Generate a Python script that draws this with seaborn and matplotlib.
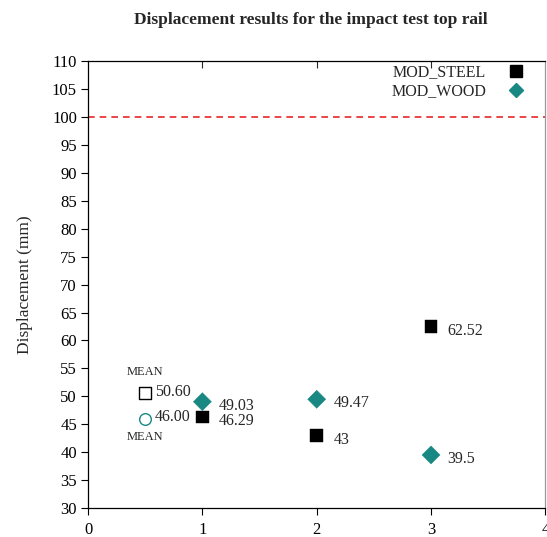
import matplotlib
matplotlib.use("Agg")
import matplotlib.pyplot as plt
import seaborn as sns
import pandas as pd
from matplotlib.lines import Line2D

# Data
tests = [1, 2, 3]
steel = [46.29, 43.0, 62.52]
wood = [49.03, 49.47, 39.5]
steel_labels = ["46.29", "43", "62.52"]
wood_labels = ["49.03", "49.47", "39.5"]
mean_x = 0.5
mean_steel = 50.60
mean_wood = 46.00
limit = 100
yticks = list(range(30, 111, 5))
xticks = [0, 1, 2, 3, 4]

sns.set_style("white")
plt.rcParams['font.family'] = ['Liberation Serif', 'DejaVu Serif']

TEAL = '#1a8882'

fig = plt.figure(figsize=(5.47, 5.37), dpi=100)
ax = fig.add_axes([0.161, 0.054, 0.836, 0.832])

df = pd.DataFrame({
    'x': tests * 2,
    'y': steel + wood,
    'series': ['MOD_STEEL'] * 3 + ['MOD_WOOD'] * 3,
})
sns.scatterplot(data=df, x='x', y='y', hue='series', style='series',
                palette={'MOD_STEEL': 'black', 'MOD_WOOD': TEAL},
                markers={'MOD_STEEL': 's', 'MOD_WOOD': 'D'},
                s=85, linewidth=0.3, ax=ax, legend=False)
ax.collections[0].set_edgecolors(['black'] * 3 + [TEAL] * 3)

for x, y, t in zip(tests, steel, steel_labels):
    ax.annotate(t, (x, y), xytext=(12, -3), textcoords='offset points',
                va='center', ha='left', fontsize=11.5)
for x, y, t in zip(tests, wood, wood_labels):
    ax.annotate(t, (x, y), xytext=(12, -3), textcoords='offset points',
                va='center', ha='left', fontsize=11.5)

# means
ax.scatter([mean_x], [mean_steel], marker='s', s=70, facecolor='white', edgecolor='black', linewidth=1.0, zorder=3)
ax.scatter([mean_x], [mean_wood], marker='o', s=70, facecolor='white', edgecolor=TEAL, linewidth=1.0, zorder=3)
ax.annotate(f"{mean_steel:.2f}", (mean_x, mean_steel), xytext=(7, 1), textcoords='offset points',
            va='center', ha='left', fontsize=11.5)
ax.annotate(f"{mean_wood:.2f}", (mean_x, mean_wood), xytext=(7, 1), textcoords='offset points',
            va='center', ha='left', fontsize=11.5)
ax.text(mean_x, 54.3, "MEAN", fontsize=9, ha='center', va='center')
ax.text(mean_x, 42.7, "MEAN", fontsize=9, ha='center', va='center')

ax.axhline(limit, color='#e8262a', linestyle=(0, (4, 3)), linewidth=1.2)

# key
handles = [Line2D([], [], marker='s', linestyle='none', color='black', markersize=8.5),
           Line2D([], [], marker='D', linestyle='none', color=TEAL, markersize=7.5)]
leg = ax.legend(handles, ['MOD_STEEL', 'MOD_WOOD'], loc='upper right', markerfirst=False,
                frameon=False, fontsize=11.5, handletextpad=1.4, labelspacing=0.2,
                bbox_to_anchor=(0.975, 1.015), borderaxespad=0.2, handlelength=1.0)

ax.set_xlim(0, 4)
ax.set_ylim(30, 110)
ax.set_xticks(xticks)
ax.set_yticks(yticks)
ax.set_xlabel('')
ax.set_ylabel('Displacement (mm)', fontsize=12.5, labelpad=14)
ax.tick_params(axis='both', labelsize=12, length=5, width=0.8, colors='black')
ax.tick_params(axis='x', bottom=True, top=False, direction='out', pad=5)
ax.tick_params(axis='y', left=True, direction='out', pad=3)
for s in ['left', 'bottom', 'top']:
    ax.spines[s].set_color('black')
    ax.spines[s].set_linewidth(0.9)
ax.spines['right'].set_color('#999999')
ax.spines['right'].set_linewidth(0.9)

# top inward ticks
ax2 = ax.secondary_xaxis('top')
ax2.set_xticks([1, 2, 3])
ax2.tick_params(direction='in', length=5, labeltop=False, width=0.8)
ax2.spines['top'].set_visible(False)

fig.suptitle('Displacement results for the impact test top rail', fontsize=12.5, fontweight='bold', y=0.978, x=0.568)

fig.savefig('out.png', dpi=100)
